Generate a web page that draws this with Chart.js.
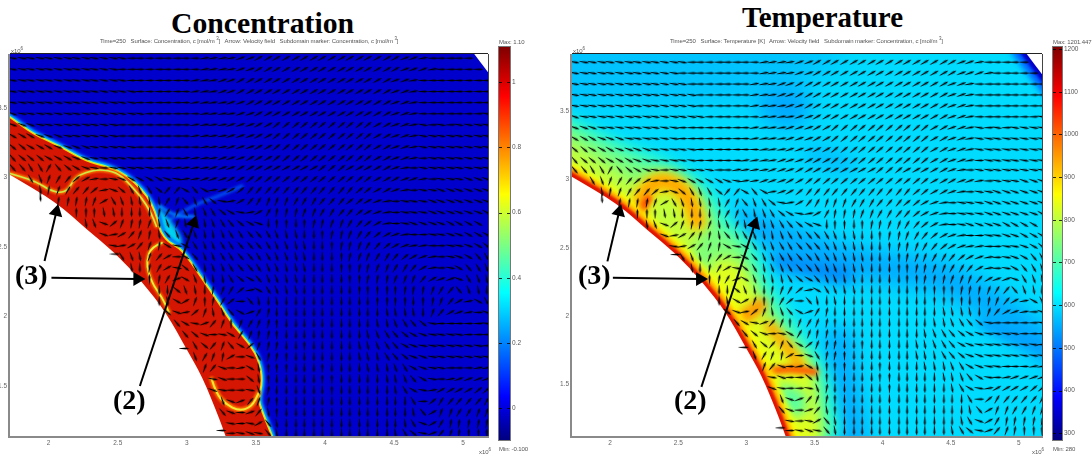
<!DOCTYPE html>
<html><head><meta charset="utf-8">
<script src="https://cdn.jsdelivr.net/npm/chart.js@4"></script>
<style>
html,body{margin:0;padding:0;background:#fff;width:1092px;height:461px;overflow:hidden}
canvas{position:absolute;filter:blur(.35px)}
.t{position:absolute;white-space:pre;font-family:"Liberation Serif",serif;font-weight:bold;color:#000}
.s{position:absolute;white-space:pre;font-family:"Liberation Sans",sans-serif;font-size:6px;letter-spacing:-.1px;line-height:8px;color:#555;filter:blur(.25px)}
.s sup{font-size:4.5px;line-height:0;vertical-align:3px}
</style></head><body>
<canvas id="c1" style="left:0;top:44px" width="496" height="416"></canvas>
<canvas id="b1" style="left:490px;top:40px" width="50" height="410"></canvas>
<canvas id="c2" style="left:540px;top:44px" width="510" height="416"></canvas>
<canvas id="b2" style="left:1044px;top:40px" width="48" height="410"></canvas>
<div class="t" style="left:171px;top:8px;font-size:29.7px;line-height:30px">Concentration</div>
<div class="t" style="left:742px;top:3px;font-size:29px;line-height:29px">Temperature</div>
<div class="t" style="left:15px;top:261px;font-size:28px;line-height:28px">(3)</div>
<div class="t" style="left:113px;top:386px;font-size:28px;line-height:28px">(2)</div>
<div class="t" style="left:578px;top:261px;font-size:28px;line-height:28px">(3)</div>
<div class="t" style="left:674px;top:386px;font-size:28px;line-height:28px">(2)</div>
<div class="s" style="left:100px;top:37px">Time=250   Surface: Concentration, c [mol/m <sup>3</sup>]   Arrow: Velocity field   Subdomain marker: Concentration, c [mol/m <sup>3</sup>]</div>
<div class="s" style="left:670px;top:37px">Time=250   Surface: Temperature [K]   Arrow: Velocity field   Subdomain marker: Concentration, c [mol/m <sup>3</sup>]</div>
<div class="s" style="left:499px;top:38px">Max: 1.10</div>
<div class="s" style="left:499px;top:445px">Min: -0.100</div>
<div class="s" style="left:1053px;top:38px">Max: 1201.447</div>
<div class="s" style="left:1053px;top:445px">Min: 280</div>
<div class="s" style="left:11px;top:47px">x10<sup>6</sup></div>
<div class="s" style="left:573px;top:47px">x10<sup>6</sup></div>
<div class="s" style="left:479px;top:448px">x10<sup>6</sup></div>
<div class="s" style="left:1032px;top:448px">x10<sup>6</sup></div>
<script>
/* ---------- axes ---------- */
const concColorTicks=[0,0.2,0.4,0.6,0.8,1];
const tempColorTicks=[300,400,500,600,700,800,900,1000,1100,1200];
const jetStops=[[0,'rgb(0,0,128)'],[0.11,'rgb(0,0,255)'],[0.375,'rgb(0,255,255)'],[0.625,'rgb(255,255,0)'],[0.875,'rgb(255,0,0)'],[1,'rgb(128,0,0)']];

/* ---------- velocity field: line direction in tens of degrees, read row by row ---------- */
const arrowXs=[1.74,1.81,1.87,1.94,2.00,2.07,2.14,2.20,2.27,2.33,2.40,2.47,2.53,2.60,2.66,2.73,2.80,2.86,2.93,2.99,3.06,3.13,3.19,3.26,3.32,3.39,3.46,3.52,3.59,3.65,3.72,3.79,3.85,3.92,3.98,4.05,4.12,4.18,4.25,4.31,4.38,4.45,4.51,4.58,4.64,4.71,4.78,4.84,4.91,4.97,5.04,5.11,5.17];
const arrowYs=[3.86,3.78,3.70,3.62,3.54,3.46,3.38,3.30,3.22,3.14,3.07,2.99,2.91,2.83,2.75,2.67,2.59,2.51,2.43,2.35,2.27,2.19,2.11,2.03,1.95,1.87,1.79,1.71,1.63,1.55,1.47,1.39,1.31,1.23,1.16];
const arrowRowStart=[0,0,0,0,0,0,0,0,0,0,0,2,3,5,7,8,10,11,12,13,15,16,16,17,18,19,20,20,21,22,22,23,23,24,24];
const arrowRows=[
[1,1,1,1,1,1,1,1,1,1,1,1,1,0,0,0,0,0,0,0,0,-1,-1,-1,-1,-2,-2,-3,-3,-3,-3,-3,-3,-3,-3,-3,-3,-3,-3,-3,-3,-3,-3,-2,-2,-1,0,0,0,0,0],
[1,1,1,1,1,1,1,1,1,1,1,1,0,0,0,0,0,0,0,0,0,-1,-1,-1,-1,-2,-2,-3,-3,-3,-3,-3,-3,-3,-3,-3,-3,-3,-3,-3,-3,-3,-3,-2,-2,-2,-1,0,0,0,0,0],
[1,1,1,1,1,1,1,1,1,1,1,1,1,0,0,0,0,0,0,0,-1,-1,-1,-2,-2,-3,-3,-3,-3,-3,-3,-3,-3,-3,-3,-3,-3,-3,-3,-3,-3,-3,-2,-2,-1,0,0,0,0,0,0,0,0,0],
[1,1,1,1,1,1,1,1,1,1,1,1,1,1,0,0,0,0,0,0,-1,-1,-1,-2,-2,-3,-3,-3,-3,-3,-3,-3,-3,-3,-3,-3,-3,-3,-3,-3,-3,-3,-2,-2,-1,0,0,0,0,0,0,0,0],
[1,1,1,1,1,1,1,1,1,1,1,1,1,1,0,0,0,0,0,0,-1,-1,-1,-1,-2,-2,-3,-3,-3,-3,-3,-3,-3,-3,-3,-3,-3,-3,-3,-3,-3,-3,-2,-2,-1,0,0,0,0,0,0,0,0],
[2,1,1,1,1,1,1,1,1,1,1,1,1,1,1,0,0,0,0,0,0,-1,-1,-1,-1,-2,-2,-3,-3,-3,-3,-3,-3,-3,-3,-3,-3,-3,-3,-3,-3,-3,-2,-2,-1,0,0,0,0,0,0,0,1],
[2,2,2,1,1,1,1,1,1,1,1,1,0,0,0,0,0,0,0,0,-1,-1,-1,-1,-2,-2,-2,-3,-3,-4,-4,-4,-4,-4,-4,-4,-4,-4,-4,-4,-3,-3,-2,-2,-1,1,0,1,0,1,1,1,1],
[3,3,3,2,2,2,1,1,1,1,1,1,0,0,0,0,0,0,0,0,-1,-1,-1,-1,-2,-2,-2,-3,-3,-4,-4,-4,-4,-4,-4,-4,-4,-4,-4,-4,-3,-3,-2,-2,-1,1,1,1,1,1,1,1,1],
[4,4,3,3,3,2,2,2,2,1,1,1,1,1,0,0,0,0,0,0,0,-1,-1,-1,-2,-2,-2,-3,-3,-4,-4,-4,-4,-4,-4,-4,-4,-4,-4,-4,-3,-3,-2,-2,-1,1,1,1,1,1,1,1,1],
[5,4,4,4,3,3,3,2,2,1,1,1,1,1,0,0,0,0,0,-1,-1,-1,-1,-2,-2,-2,-3,-3,-3,-4,-4,-4,-4,-4,-4,-4,-4,-4,-4,-4,-3,-3,-2,-2,-1,0,1,1,1,1,1,1,1],
[5,5,6,6,-6,5,4,3,2,1,0,1,1,1,1,1,0,0,-1,-1,-1,-1,-2,-2,-2,-3,-3,-3,-3,-3,-3,-3,-3,-3,-4,-4,-4,-3,-3,-3,-3,-3,-2,-1,0,1,1,1,1,1,1,1,1],
[6,7,-7,-6,-5,-4,-3,-1,0,1,2,3,3,3,3,2,1,-1,-1,-2,-2,-2,-3,-3,-4,-4,-4,-4,-4,-4,-4,-4,-4,-4,-4,-4,-4,-4,-3,-3,-3,-2,-2,-1,0,1,1,1,2,2,2,2,2],
[8,-8,-7,-6,-5,-5,-4,-1,2,4,6,7,6,4,-5,-5,3,5,3,-1,-2,-3,-4,-5,-5,-5,-5,-5,-5,-5,-5,-5,-5,-5,-5,-4,-4,-3,-3,-2,-1,0,1,1,2,2,2,2,2,2],
[-8,-8,-8,-8,-7,-3,6,7,8,8,8,8,-6,-7,5,7,6,4,1,-1,-3,-5,-6,-7,-7,-7,-6,-6,-6,-5,-5,-5,-4,-4,-3,-2,-1,0,1,1,1,2,2,2,2,2,2,2],
[-9,-9,-9,8,8,9,9,9,9,-8,-6,-7,6,8,7,6,4,3,1,-1,-3,-6,-8,-8,-8,-7,-7,-6,-6,-5,-5,-4,-3,-2,-1,0,1,1,1,2,2,2,2,2,2,3],
[8,7,2,-4,-7,-8,-8,-7,8,7,-7,8,8,8,7,6,5,4,3,2,9,-9,-9,9,-9,-8,-8,-7,-7,-6,-5,-4,-3,-1,0,1,2,2,2,2,3,3,3,3],
[2,-1,-3,-5,-7,-8,8,5,7,6,7,8,8,7,6,6,5,5,6,7,8,8,9,9,-9,-8,-8,-7,-6,-5,-4,-3,-2,-1,0,0,1,1,2,2,3,3,3],
[1,-1,-3,-5,-7,-8,3,1,3,6,7,7,6,6,5,5,5,6,7,7,8,8,9,9,-9,-8,-8,-7,-6,-5,-4,-3,-2,-1,-1,0,0,1,1,2,3,4],
[6,7,8,-7,-5,-3,0,3,5,7,7,6,6,5,5,6,6,7,7,8,8,9,9,9,-9,-8,-7,-7,-6,-6,-5,-4,-3,-2,-1,0,1,2,3,5,6],
[8,9,-8,-6,-3,1,4,6,8,7,7,6,5,5,6,7,7,8,8,8,9,9,9,-9,-9,-8,-8,-7,-7,-6,-6,-5,-3,-1,0,1,3,5,6,7],
[-9,-8,-6,-2,3,7,8,8,8,6,4,3,5,7,7,8,8,9,9,9,9,9,-9,-9,-8,-8,-8,-7,-7,-7,-5,-3,-2,-2,2,6,7,8],
[9,9,4,7,8,9,-8,-7,-6,-4,-1,3,6,7,8,8,9,9,9,9,9,9,-9,-9,-9,-9,-9,-8,-8,-8,-7,-6,-5,5,7,8,9],
[9,8,3,-3,-7,-9,-8,-6,-4,0,5,8,9,8,9,9,9,9,9,9,9,9,9,9,-9,-9,-9,-9,9,-9,-8,-7,-5,-3,-1,3,6],
[4,2,-1,-4,-7,8,7,5,3,-2,-6,-8,9,9,9,9,9,9,9,9,9,9,9,9,8,8,8,8,9,-7,-5,-3,-2,-1,0,2],
[5,3,1,-2,-5,-7,-9,-7,-6,-7,-8,-9,9,9,9,9,9,9,9,9,9,9,8,8,7,6,5,4,1,0,0,0,0,0,1],
[5,4,2,0,1,3,-6,-7,-8,-8,-9,9,9,9,9,9,9,9,9,9,8,7,6,5,4,3,2,1,1,1,1,0,0,0],
[6,4,-5,-7,5,3,-4,-7,-8,-8,9,9,-9,9,9,9,9,9,8,8,7,6,5,3,2,1,1,1,1,1,1,1,0],
[7,-6,-7,-8,-3,0,2,6,-8,-8,-9,9,9,9,9,9,9,9,8,8,8,6,5,4,2,2,1,1,1,1,1,1,1],
[-7,-5,2,0,-1,3,8,-9,-9,-9,9,9,9,-9,9,9,9,9,8,8,8,7,6,3,2,1,1,0,0,0,-1,-1],
[1,2,0,0,4,8,-9,9,9,9,9,9,-9,-9,9,9,9,9,9,8,8,7,5,3,1,0,-1,-2,-2,-2,-2],
[2,1,0,0,1,7,-8,9,9,9,9,9,9,-9,9,9,9,9,9,9,8,6,3,1,-1,-3,-3,-3,-3,-4,-4],
[7,2,-2,-5,-7,-8,-9,9,9,9,9,9,9,9,9,9,9,9,9,9,9,6,0,-4,-6,-5,-5,-5,-5,-6],
[5,2,0,-2,-5,8,-9,9,9,9,9,9,9,9,9,9,9,9,9,9,9,8,5,-3,-7,-7,-6,-6,-7,-7],
[1,0,1,-3,5,8,9,9,9,9,9,9,9,9,9,9,9,9,9,8,6,2,-3,-6,-8,-8,-8,-8,-8],
[0,1,2,1,5,8,9,9,9,9,9,9,9,9,9,9,9,9,8,6,4,1,-2,-5,-7,-8,-9,-9,-9]
];
const strayArrowX=[2.48,2.98,3.25,1.94];
const strayArrowY=[2.45,1.77,1.18,2.86];
const strayArrowDeg=[0,0,0,85];

/* ---------- geometry, in axis units (x10^6) ---------- */
const wallCurve=[[1.6,3.09],[1.72,3.02],[2.06,2.82],[2.27,2.63],[2.48,2.46],[2.68,2.245],[2.85,2.03],[3.0,1.76],[3.11,1.57],[3.23,1.28],[3.28,1.14],[3.35,0.95]];
const whiteHole=wallCurve.concat([[1.0,0.95],[1.0,3.09]]);
const concBase=[[1,0.9],[5.4,0.9],[5.4,4.1],[1,4.1]];
const concEdge=[[1.5,3.57],[1.72,3.43],[1.88,3.31],[2.08,3.22],[2.27,3.11],[2.44,3.07],[2.56,3.01],[2.67,2.91],[2.74,2.81],[2.78,2.70],[2.80,2.61],[2.86,2.53],[2.96,2.48],[3.09,2.29],[3.23,2.09],[3.33,1.93],[3.45,1.80],[3.52,1.67],[3.54,1.53],[3.51,1.40],[3.54,1.31],[3.61,1.14],[3.68,0.95]];
const concRed=concEdge.concat([[1.0,0.95],[1.0,3.57]]);
const concWispA=[[2.82,2.66],[3.02,2.79],[3.21,2.86],[3.40,2.94]];
const concWispB=[[2.80,2.80],[2.90,2.72],[3.05,2.72]];
const concNeck=[[2.78,2.81],[2.96,2.61],[2.97,2.48],[2.84,2.52],[2.79,2.66]];
const concArcA=[[1.72,3.03],[1.79,3.01],[1.91,2.97],[2.01,2.91],[2.08,2.89],[2.14,2.91],[2.19,3.00],[2.27,3.04],[2.37,3.06],[2.49,3.04],[2.57,2.97],[2.67,2.86],[2.74,2.75],[2.78,2.65]];
const concArcB=[[2.82,2.53],[2.74,2.50],[2.71,2.40],[2.72,2.32],[2.76,2.22],[2.82,2.14],[2.87,2.03]];
const concArcC=[[3.18,1.55],[3.21,1.45],[3.28,1.37],[3.38,1.32],[3.47,1.35],[3.52,1.45]];
const cornerLine=[[5.02,3.97],[5.3,3.6]];
const cornerHole=[[5.02,3.97],[5.3,3.6],[5.5,4.1]];

const tempBase=[[1,0.9],[5.4,0.9],[5.4,4.1],[1,4.1]];
const tempTopBlue=[[1.5,4.1],[4.0,4.1],[3.4,3.65],[2.6,3.55],[1.5,3.55]];
const tempBlobA=[[3.05,3.55],[3.2,3.72],[3.45,3.65],[3.5,3.45],[3.25,3.35],[3.05,3.55]];
const tempBlobB=[[3.50,3.18],[3.72,3.11]];
const tempBandA=[[2.99,2.67],[3.32,2.56],[3.68,2.41],[4.05,2.35],[4.42,2.30],[4.64,2.19],[4.86,2.04],[5.3,1.72]];
const tempBandB=[[3.25,2.40],[3.50,2.34],[3.72,2.30]];
const tempBandC=[[4.75,1.95],[4.98,1.84],[5.3,1.72]];
const tempColumn=[[3.68,1.82],[3.72,1.46],[3.80,1.0]];
const tempAqua=[[1.5,3.55],[1.72,3.46],[1.93,3.35],[2.22,3.23],[2.51,3.12],[2.76,2.93],[2.90,2.68],[3.05,2.58],[3.16,2.27],[3.31,2.05],[3.45,1.83],[3.60,1.60],[3.66,1.31],[3.72,1.0],[1.0,0.95],[1.0,3.55]];
const tempGreen=[[1.5,3.48],[1.72,3.38],[1.93,3.27],[2.22,3.13],[2.51,3.03],[2.70,2.86],[2.80,2.65],[2.99,2.53],[3.08,2.24],[3.23,2.02],[3.37,1.80],[3.52,1.60],[3.56,1.31],[3.62,1.0],[1.0,0.95],[1.0,3.48]];
const tempYellowA=[[1.5,3.38],[1.72,3.27],[2.00,3.09],[2.22,2.94],[2.44,2.98],[2.62,2.81],[2.66,2.56],[2.59,2.41],[1.93,2.30],[1.5,2.80]];
const tempYellowB=[[2.77,2.41],[2.92,2.45],[3.06,2.19],[3.14,1.97],[3.32,1.79],[3.47,1.68],[3.50,1.38],[3.58,1.0],[3.25,1.0],[2.81,1.70],[2.59,2.12]];
const tempCoolPocket=[[3.20,1.50],[3.42,1.50],[3.46,1.30],[3.35,1.24],[3.24,1.36]];
const tempRing=[[2.20,2.74],[2.23,2.89],[2.35,3.0],[2.48,2.97],[2.59,2.85],[2.64,2.69]];
const tempRingFoot=[[2.17,2.68],[2.28,2.86]];
const tempOrangeA=[[2.84,1.93],[2.99,1.99],[3.10,2.08]];
const tempOrangeB=[[3.17,1.93],[3.32,1.75],[3.39,1.64]];
const tempOrangeC=[[3.10,1.58],[3.28,1.62],[3.50,1.59]];

/* ---------- annotation arrows ---------- */
const concLeaderA=[[1.97,2.40],[2.056,2.754]], concLeaderB=[[2.02,2.28],[2.642,2.27]], concLeaderC=[[2.66,1.50],[3.051,2.675]];
const tempLeaderA=[[1.98,2.40],[2.066,2.764]], tempLeaderB=[[2.02,2.28],[2.66,2.27]], tempLeaderC=[[2.67,1.48],[3.061,2.674]];
const leaderHeadDeg=[13.6,90,18.7];

/* ---------- drawing helpers ---------- */
function arrowSprite(){
  const c=document.createElement('canvas');c.width=11;c.height=5;
  const g=c.getContext('2d');g.fillStyle='#000';
  g.beginPath();g.moveTo(.5,2.2);g.lineTo(7.5,1.5);g.lineTo(10.5,2.5);g.lineTo(7.5,3.5);g.lineTo(.5,2.8);g.closePath();g.fill();
  return c;
}
const sprite=arrowSprite();
function toXY(a){return a.map(p=>({x:p[0],y:p[1]}));}
function layer(pts,o){return {type:'scatter',data:toXY(pts),showLine:false,pointRadius:0,order:5,layer:o};}
function flow(){
  const data=[],rot=[];
  arrowRows.forEach((row,j)=>row.forEach((v,k)=>{
    const x=arrowXs[arrowRowStart[j]+k];if(x===undefined)return;
    data.push({x,y:arrowYs[j]});rot.push(v*10);
  }));
  strayArrowX.forEach((x,i)=>{data.push({x,y:strayArrowY[i]});rot.push(strayArrowDeg[i]);});
  return {type:'scatter',data,pointStyle:sprite,pointRadius:4,pointRotation:rot,order:2};
}
function leader(pts,deg){
  return {type:'scatter',data:toXY(pts),showLine:true,borderColor:'#000',borderWidth:2,pointRadius:[0,8],pointStyle:'triangle',pointRotation:[0,deg],pointBackgroundColor:'#000',pointBorderWidth:0,order:1,clip:false};
}
const surface={id:'surface',beforeDatasetsDraw(ch){
  const {ctx,chartArea:a,scales:{x,y}}=ch;
  ctx.save();ctx.beginPath();ctx.rect(a.left,a.top,a.width,a.height);ctx.clip();
  ch.data.datasets.forEach(ds=>{
    const L=ds.layer;if(!L)return;
    const P=ds.data.map(p=>[x.getPixelForValue(p.x),y.getPixelForValue(p.y)]);
    ctx.filter=L.blur?`blur(${L.blur}px)`:'none';
    ctx.beginPath();ctx.moveTo(P[0][0],P[0][1]);
    for(let i=1;i<P.length-1;i++){
      if(L.sharp)ctx.lineTo(P[i][0],P[i][1]);
      else ctx.quadraticCurveTo(P[i][0],P[i][1],(P[i][0]+P[i+1][0])/2,(P[i][1]+P[i+1][1])/2);
    }
    ctx.lineTo(P[P.length-1][0],P[P.length-1][1]);
    if(L.fill){ctx.closePath();ctx.fillStyle=L.fill;ctx.fill();}
    if(L.stroke){ctx.strokeStyle=L.stroke;ctx.lineWidth=L.width;ctx.lineCap='round';ctx.lineJoin='round';ctx.stroke();}
  });
  ctx.filter='none';ctx.restore();
},afterDatasetsDraw(ch){
  const {ctx,chartArea:a}=ch;
  ctx.save();
  ctx.strokeStyle='#222';ctx.lineWidth=1;
  ctx.beginPath();ctx.moveTo(a.left,a.top-.5);ctx.lineTo(a.right,a.top-.5);ctx.stroke();
  ctx.strokeStyle='#444';
  ctx.beginPath();ctx.moveTo(a.right+.5,a.top);ctx.lineTo(a.right+.5,a.bottom);ctx.stroke();
  ctx.strokeStyle='#8a8a8a';ctx.lineWidth=2;
  ctx.beginPath();ctx.moveTo(a.left-1,a.top);ctx.lineTo(a.left-1,a.bottom+1);ctx.lineTo(a.right+1,a.bottom+1);ctx.stroke();
  ctx.restore();
}};
function mainChart(id,datasets,xr,yr,pad,yw){
  const fmt=v=>String(Math.round(v*10)/10);
  const tick={color:'#666',font:{family:'Liberation Sans',size:6.5}};
  return new Chart(document.getElementById(id),{type:'scatter',data:{datasets},plugins:[surface],options:{
    responsive:false,animation:false,events:[],
    layout:{padding:{top:10,right:pad,left:0,bottom:0}},
    plugins:{legend:{display:false},tooltip:{enabled:false}},
    scales:{
      x:{type:'linear',min:xr[0],max:xr[1],grid:{display:false,drawTicks:false},border:{display:false},
        ticks:{...tick,stepSize:.5,includeBounds:false,callback:fmt,maxRotation:0,autoSkip:false,padding:3},
        afterFit(s){s.height=24;}},
      y:{type:'linear',min:yr[0],max:yr[1],grid:{display:false,drawTicks:false},border:{display:false},
        ticks:{...tick,stepSize:.5,includeBounds:false,callback:fmt,autoSkip:false,padding:3},
        afterFit(s){s.width=yw;}}
    }}});
}
const barMarks={id:'barMarks',afterDatasetsDraw(ch){
  const {ctx,chartArea:a,scales:{y}}=ch;
  ctx.save();ctx.strokeStyle='#777';ctx.lineWidth=1;ctx.strokeRect(a.left-.5,a.top-.5,a.width+1,a.height+1);
  ctx.strokeStyle='rgba(0,0,0,.8)';
  y.ticks.forEach(t=>{const p=Math.round(y.getPixelForValue(t.value))+.5;
    ctx.beginPath();ctx.moveTo(a.left,p);ctx.lineTo(a.left+3,p);ctx.moveTo(a.right-3,p);ctx.lineTo(a.right,p);ctx.stroke();});
  ctx.restore();
}};
function colorBar(id,lo,hi,ticks,padLeft,w){
  return new Chart(document.getElementById(id),{type:'bar',plugins:[barMarks],
    data:{labels:['c'],datasets:[{data:[[lo,hi]],barPercentage:1,categoryPercentage:1,borderWidth:0,
      backgroundColor(c){const a=c.chart.chartArea;if(!a)return '#00f';
        const g=c.chart.ctx.createLinearGradient(0,a.bottom,0,a.top);jetStops.forEach(s=>g.addColorStop(s[0],s[1]));return g;}}]},
    options:{responsive:false,animation:false,events:[],
      layout:{padding:{top:7,bottom:10,left:padLeft,right:0}},
      plugins:{legend:{display:false},tooltip:{enabled:false}},
      scales:{x:{display:false},
        y:{position:'right',min:lo,max:hi,grid:{display:false,drawTicks:false},border:{display:false},
          ticks:{color:'#555',font:{family:'Liberation Sans',size:6.5},padding:2,autoSkip:false,callback:v=>String(v)},
          afterBuildTicks(s){s.ticks=ticks.map(v=>({value:v}));},
          afterFit(s){s.width=w;}}}}});
}

/* ---------- concentration panel ---------- */
mainChart('c1',[
  leader(concLeaderA,leaderHeadDeg[0]),leader(concLeaderB,leaderHeadDeg[1]),leader(concLeaderC,leaderHeadDeg[2]),
  flow(),
  layer(concBase,{fill:'rgb(0,0,205)',sharp:true}),
  layer(concWispA,{stroke:'rgb(0,90,245)',width:3,blur:1.6}),
  layer(concWispB,{stroke:'rgb(0,140,255)',width:3,blur:1.4}),
  layer(concNeck,{fill:'rgb(0,210,240)',blur:2}),
  layer(concEdge,{stroke:'rgb(0,70,250)',width:10,blur:1.5}),
  layer(concEdge,{stroke:'rgb(0,200,250)',width:6.5,blur:1}),
  layer(concEdge,{stroke:'rgb(150,255,110)',width:4,blur:.7}),
  layer(concEdge,{stroke:'rgb(255,210,0)',width:2.5,blur:.5}),
  layer(concRed,{fill:'rgb(212,22,2)',blur:.5}),
  layer(concArcA,{stroke:'rgb(255,120,0)',width:4,blur:1}),
  layer(concArcA,{stroke:'rgb(205,235,70)',width:1.6,blur:.5}),
  layer(concArcB,{stroke:'rgb(255,120,0)',width:4,blur:1}),
  layer(concArcB,{stroke:'rgb(225,245,60)',width:1.8,blur:.5}),
  layer(concArcC,{stroke:'rgb(255,120,0)',width:5,blur:1}),
  layer(concArcC,{stroke:'rgb(240,235,50)',width:2,blur:.6}),
  layer(cornerHole,{fill:'#fff',sharp:true}),
  layer(whiteHole,{fill:'#fff',blur:.3})
],[1.72,5.18],[1.14,3.89],6,10);
colorBar('b1',-0.098,1.108,concColorTicks,9,30);

/* ---------- temperature panel ---------- */
mainChart('c2',[
  leader(tempLeaderA,leaderHeadDeg[0]),leader(tempLeaderB,leaderHeadDeg[1]),leader(tempLeaderC,leaderHeadDeg[2]),
  flow(),
  layer(tempBase,{fill:'rgb(0,220,255)',sharp:true}),
  layer(tempTopBlue,{fill:'rgb(0,195,255)',blur:12}),
  layer(tempBlobA,{fill:'rgb(0,168,255)',blur:10}),
  layer(tempBlobB,{stroke:'rgb(0,192,255)',width:20,blur:8}),
  layer(tempBandA,{stroke:'rgb(0,170,255)',width:30,blur:10}),
  layer(tempBandB,{stroke:'rgb(0,135,250)',width:18,blur:7}),
  layer(tempBandC,{stroke:'rgb(0,155,252)',width:12,blur:6}),
  layer(tempColumn,{stroke:'rgb(0,175,255)',width:30,blur:9}),
  layer(tempAqua,{fill:'rgb(40,250,210)',blur:7}),
  layer(tempGreen,{fill:'rgb(125,255,125)',blur:7}),
  layer(tempYellowA,{fill:'rgb(195,255,60)',blur:7}),
  layer(tempYellowB,{fill:'rgb(225,255,30)',blur:7}),
  layer(tempCoolPocket,{fill:'rgb(90,255,160)',blur:6}),
  layer(tempRing,{stroke:'rgb(255,215,0)',width:20,blur:6}),
  layer(tempRing,{stroke:'rgb(255,160,0)',width:10,blur:4}),
  layer(tempRingFoot,{stroke:'rgb(255,80,0)',width:7,blur:2}),
  layer(tempOrangeA,{stroke:'rgb(255,150,0)',width:14,blur:4.5}),
  layer(tempOrangeB,{stroke:'rgb(255,170,0)',width:11,blur:4}),
  layer(tempOrangeC,{stroke:'rgb(255,95,0)',width:8,blur:2.5}),
  layer(wallCurve,{stroke:'rgb(255,255,0)',width:24,blur:3}),
  layer(wallCurve,{stroke:'rgb(255,140,0)',width:15,blur:2}),
  layer(wallCurve,{stroke:'rgb(225,20,0)',width:8,blur:1}),
  layer(cornerLine,{stroke:'rgb(0,90,255)',width:22,blur:3}),
  layer(cornerLine,{stroke:'rgb(0,0,200)',width:9,blur:1.5}),
  layer(cornerHole,{fill:'#fff',sharp:true}),
  layer(whiteHole,{fill:'#fff',blur:.3})
],[1.72,5.17],[1.12,3.92],7,32);
colorBar('b2',284,1205,tempColorTicks,9,30);
</script>
</body></html>
